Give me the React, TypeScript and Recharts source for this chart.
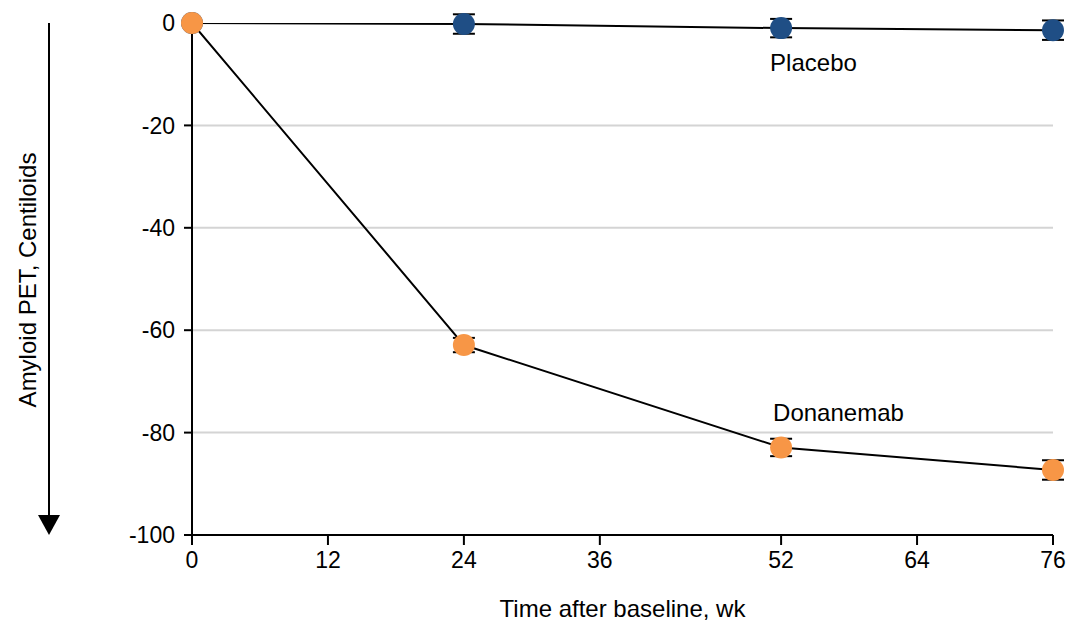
import React from "react";
import {
  LineChart,
  Line,
  XAxis,
  YAxis,
  CartesianGrid,
  ErrorBar,
  LabelList,
} from "recharts";

const weeks = [0, 24, 52, 76];
const placebo = [0, -0.2, -1.0, -1.4];
const placeboSe = [null, 1.9, 1.8, 1.9];
const donanemab = [0, -62.9, -82.9, -87.3];
const donanemabSe = [null, 1.4, 1.7, 1.9];

const xTicks = [0, 12, 24, 36, 52, 64, 76];
const yTicks = [0, -20, -40, -60, -80, -100];
const gridValues = [-20, -40, -60, -80];

const BLUE = "#1F4E85";
const ORANGE = "#F79646";
const FONT = "'Liberation Sans', Arial, sans-serif";

const data = weeks.map((wk, i) => ({
  wk,
  placebo: placebo[i],
  placeboSe: placeboSe[i],
  donanemab: donanemab[i],
  donanemabSe: donanemabSe[i],
}));

const tickStyle = { fontSize: 23, fill: "#000", fontFamily: FONT };

// y-axis title with the downward arrow beside it
function YTitle() {
  return (
    <g>
      <text
        x={27}
        y={280}
        transform="rotate(-90 27 280)"
        textAnchor="middle"
        dominantBaseline="central"
        fontSize={24}
        fontFamily={FONT}
        fill="#000"
      >
        Amyloid PET, Centiloids
      </text>
      <line x1={49} y1={23} x2={49} y2={517} stroke="#000" strokeWidth={2} />
      <polygon points="38,515 60,515 49,535" fill="#000" />
    </g>
  );
}

function seriesTag(name: string, dx: number, dy: number) {
  return (props: any) => {
    const { x, y, index } = props;
    if (index !== 2) return null;
    return (
      <text x={x + dx} y={y + dy} fontSize={24} fontFamily={FONT} fill="#000">
        {name}
      </text>
    );
  };
}

export default function App() {
  return (
    <div style={{ width: 1068, height: 625 }}>
      <style>{"body{margin:0}"}</style>
      <LineChart
        width={1068}
        height={625}
        data={data}
        margin={{ top: 23, right: 15, bottom: 0, left: 0 }}
      >
        <CartesianGrid
          vertical={false}
          horizontalValues={gridValues}
          stroke="#D4D4D4"
          strokeWidth={2}
        />
        <XAxis
          dataKey="wk"
          type="number"
          domain={[0, 76]}
          ticks={xTicks}
          height={90}
          tickSize={10}
          tickMargin={7}
          tick={tickStyle}
          axisLine={{ stroke: "#000", strokeWidth: 2 }}
          tickLine={{ stroke: "#000", strokeWidth: 2 }}
          label={{
            value: "Time after baseline, wk",
            position: "insideBottom",
            offset: 8,
            style: { fontSize: 24, fill: "#000", fontFamily: FONT },
          }}
        />
        <YAxis
          type="number"
          domain={[-100, 0]}
          allowDataOverflow
          ticks={yTicks}
          width={192}
          tickSize={8}
          tickMargin={9}
          tick={tickStyle}
          axisLine={{ stroke: "#000", strokeWidth: 2 }}
          tickLine={{ stroke: "#000", strokeWidth: 2 }}
          label={<YTitle />}
        />
        <Line
          dataKey="placebo"
          stroke="#000"
          strokeWidth={2}
          dot={{ r: 11, fill: BLUE, stroke: "none", clipDot: false }}
          isAnimationActive={false}
        >
          <ErrorBar dataKey="placeboSe" direction="y" width={11} stroke="#000" strokeWidth={2} />
          <LabelList content={seriesTag("Placebo", -11, 43)} />
        </Line>
        <Line
          dataKey="donanemab"
          stroke="#000"
          strokeWidth={2}
          dot={{ r: 11, fill: ORANGE, stroke: "none", clipDot: false }}
          isAnimationActive={false}
        >
          <ErrorBar dataKey="donanemabSe" direction="y" width={11} stroke="#000" strokeWidth={2} />
          <LabelList content={seriesTag("Donanemab", -8, -26)} />
        </Line>
      </LineChart>
    </div>
  );
}
